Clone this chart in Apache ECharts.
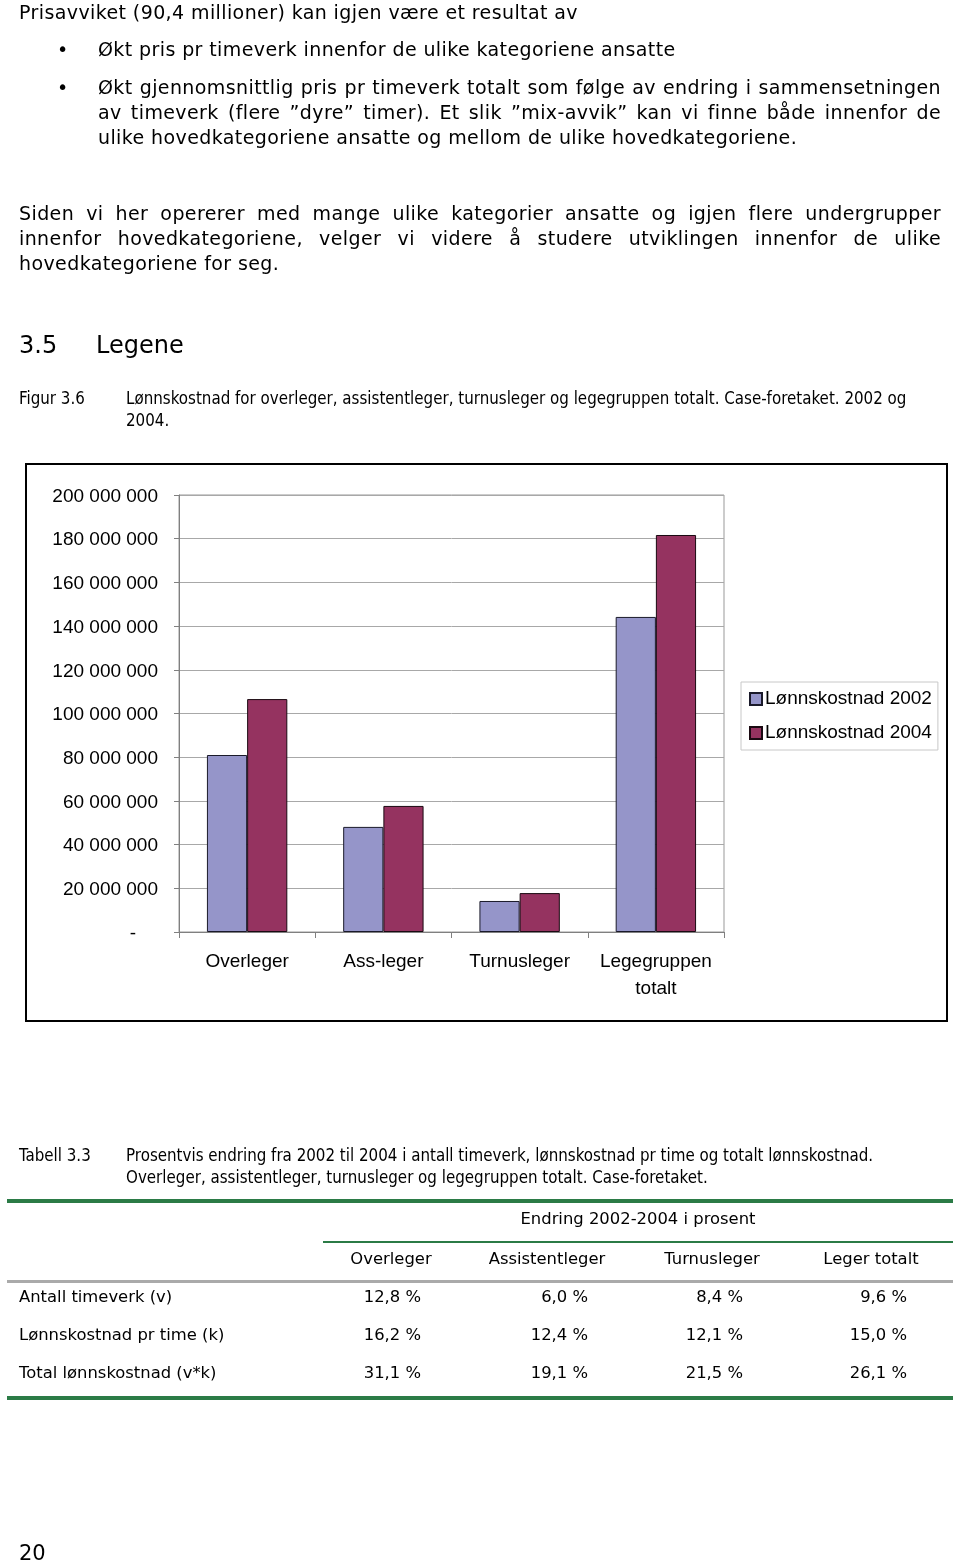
<!DOCTYPE html>
<html>
<head>
<meta charset="utf-8">
<script src="https://cdn.jsdelivr.net/npm/echarts@6/dist/echarts.min.js"></script>
<style>
html,body{margin:0;padding:0;background:#fff;}
#page{position:relative;width:960px;height:1564px;overflow:hidden;}
#chart{position:absolute;left:0;top:0;width:960px;height:1564px;z-index:0;}
.t{position:absolute;z-index:1;white-space:nowrap;color:#000;font-family:"DejaVu Sans",Verdana,sans-serif;}
.body{font-size:19px;letter-spacing:0.4px;line-height:24px;height:24px;}
.just{white-space:normal;text-align:justify;text-align-last:justify;}
.cap{font-family:"DejaVu Sans Condensed","DejaVu Sans",sans-serif;font-stretch:condensed;font-size:16.8px;line-height:20px;height:20px;}
.tab{font-size:16.4px;line-height:22px;height:22px;}
.hr{position:absolute;z-index:1;}
</style>
</head>
<body>
<div id="page">
<div id="chart"></div>

<div class="t body" style="left:19px;top:0px;">Prisavviket (90,4 millioner) kan igjen være et resultat av</div>
<div class="t body" style="left:57px;top:37px;">•</div>
<div class="t body" style="left:98px;top:37px;">Økt pris pr timeverk innenfor de ulike kategoriene ansatte</div>
<div class="t body" style="left:57px;top:75px;">•</div>
<div class="t body just" style="left:98px;top:75px;width:843px;">Økt gjennomsnittlig pris pr timeverk totalt som følge av endring i sammensetningen</div>
<div class="t body just" style="left:98px;top:100px;width:843px;">av timeverk (flere ”dyre” timer). Et slik ”mix-avvik” kan vi finne både innenfor de</div>
<div class="t body" style="left:98px;top:125px;">ulike hovedkategoriene ansatte og mellom de ulike hovedkategoriene.</div>

<div class="t body just" style="left:19px;top:201px;width:922px;">Siden vi her opererer med mange ulike kategorier ansatte og igjen flere undergrupper</div>
<div class="t body just" style="left:19px;top:226px;width:922px;">innenfor hovedkategoriene, velger vi videre å studere utviklingen innenfor de ulike</div>
<div class="t body" style="left:19px;top:251px;">hovedkategoriene for seg.</div>

<div class="t" style="left:19px;top:330px;font-size:24px;line-height:30px;">3.5</div>
<div class="t" style="left:96px;top:330px;font-size:24px;line-height:30px;">Legene</div>

<div class="t cap" style="left:19px;top:388px;">Figur 3.6</div>
<div class="t cap" style="left:126px;top:388px;">Lønnskostnad for overleger, assistentleger, turnusleger og legegruppen totalt. Case-foretaket. 2002 og</div>
<div class="t cap" style="left:126px;top:410px;">2004.</div>

<div class="t cap" style="left:19px;top:1145px;">Tabell 3.3</div>
<div class="t cap" style="left:126px;top:1145px;">Prosentvis endring fra 2002 til 2004 i antall timeverk, lønnskostnad pr time og totalt lønnskostnad.</div>
<div class="t cap" style="left:126px;top:1167px;">Overleger, assistentleger, turnusleger og legegruppen totalt. Case-foretaket.</div>

<div class="hr" style="left:7px;top:1199px;width:946px;height:4px;background:#2b7b46;"></div>
<div class="t tab" style="left:438px;top:1208px;width:400px;text-align:center;">Endring 2002-2004 i prosent</div>
<div class="hr" style="left:323px;top:1241px;width:630px;height:2px;background:#2b7b46;"></div>
<div class="t tab" style="left:311px;top:1248px;width:160px;text-align:center;">Overleger</div>
<div class="t tab" style="left:467px;top:1248px;width:160px;text-align:center;">Assistentleger</div>
<div class="t tab" style="left:632px;top:1248px;width:160px;text-align:center;">Turnusleger</div>
<div class="t tab" style="left:791px;top:1248px;width:160px;text-align:center;">Leger totalt</div>
<div class="hr" style="left:7px;top:1280px;width:946px;height:3px;background:#aaaaaa;"></div>
<div id="rows"></div>
<div class="hr" style="left:7px;top:1396px;width:946px;height:4px;background:#2b7b46;"></div>

<div class="t" style="left:19px;top:1540px;font-size:21px;line-height:26px;">20</div>
</div>

<script>
// ---- chart data ----
const categories = ['Overleger', 'Ass-leger', 'Turnusleger', 'Legegruppen\ntotalt'];
const seriesNames = ['Lønnskostnad 2002', 'Lønnskostnad 2004'];
const lonn2002 = [81000000, 48100000, 14200000, 144200000];
const lonn2004 = [106600000, 57700000, 17800000, 181700000];
const yMin = 0, yMax = 200000000, yInterval = 20000000;

// ---- table data ----
const rowLabels = ['Antall timeverk (v)', 'Lønnskostnad pr time (k)', 'Total lønnskostnad (v*k)'];
const colOverleger = ['12,8 %', '16,2 %', '31,1 %'];
const colAssistent = ['6,0 %', '12,4 %', '19,1 %'];
const colTurnus = ['8,4 %', '12,1 %', '21,5 %'];
const colTotalt = ['9,6 %', '15,0 %', '26,1 %'];

(function buildRows(){
  const rows = document.getElementById('rows');
  const tops = [1286, 1324, 1362];
  const rights = [421, 588, 743, 907];
  const cols = [colOverleger, colAssistent, colTurnus, colTotalt];
  rowLabels.forEach((lab, i) => {
    const d = document.createElement('div');
    d.className = 't tab';
    d.style.left = '19px'; d.style.top = tops[i] + 'px';
    d.textContent = lab;
    rows.appendChild(d);
    cols.forEach((c, j) => {
      const v = document.createElement('div');
      v.className = 't tab';
      v.style.right = (960 - rights[j]) + 'px'; v.style.top = tops[i] + 'px';
      v.textContent = c[i];
      rows.appendChild(v);
    });
  });
})();

const chart = echarts.init(document.getElementById('chart'), null, {renderer: 'canvas'});
const fmt = v => v === 0 ? '{d|-}' : String(v).replace(/\B(?=(\d{3})+(?!\d))/g, ' ');
chart.setOption({
  animation: false,
  textStyle: {fontFamily: '"Liberation Sans", Arial, sans-serif'},
  graphic: [{
    type: 'rect', shape: {x: 26, y: 464, width: 921, height: 557},
    style: {fill: 'none', stroke: '#000', lineWidth: 2}, z: 10
  }],
  grid: {left: 179, top: 495, right: 236, bottom: 632, show: true, borderColor: '#999', borderWidth: 1, backgroundColor: 'transparent'},
  legend: {
    orient: 'vertical', left: 741, top: 682,
    padding: [6, 6, 6, 8], itemGap: 12, itemWidth: 12, itemHeight: 12,
    borderColor: '#c8c8c8', borderWidth: 1,
    icon: 'rect',
    textStyle: {fontSize: 19, lineHeight: 20, color: '#000', fontFamily: '"Liberation Sans", Arial, sans-serif', padding: [2, 0, 0, -2]},
    data: seriesNames
  },
  xAxis: {
    type: 'category', data: categories,
    axisLine: {lineStyle: {color: '#808080', width: 1}},
    axisTick: {show: true, length: 6, lineStyle: {color: '#808080'}, interval: 0},
    axisLabel: {fontSize: 19, lineHeight: 27, color: '#000', margin: 16, interval: 0},
    splitLine: {show: false}
  },
  yAxis: {
    type: 'value', min: yMin, max: yMax, interval: yInterval,
    axisLine: {show: true, lineStyle: {color: '#808080', width: 1}},
    axisTick: {show: true, length: 5, lineStyle: {color: '#808080'}},
    axisLabel: {fontSize: 19, color: '#000', margin: 21, formatter: fmt, padding: [3, 0, 0, 0],
      rich: {d: {fontSize: 19, color: '#000', padding: [0, 22, 0, 0]}}},
    splitLine: {show: true, lineStyle: {color: '#a8a8a8', width: 1}}
  },
  series: [
    {name: seriesNames[0], type: 'bar', data: lonn2002, barGap: '0%', barCategoryGap: '41%',
     itemStyle: {color: '#9595c9', borderColor: '#1a1a2a', borderWidth: 1}},
    {name: seriesNames[1], type: 'bar', data: lonn2004, barGap: '0%', barCategoryGap: '41%',
     itemStyle: {color: '#953360', borderColor: '#1a0a12', borderWidth: 1}}
  ]
});
</script>
</body>
</html>
